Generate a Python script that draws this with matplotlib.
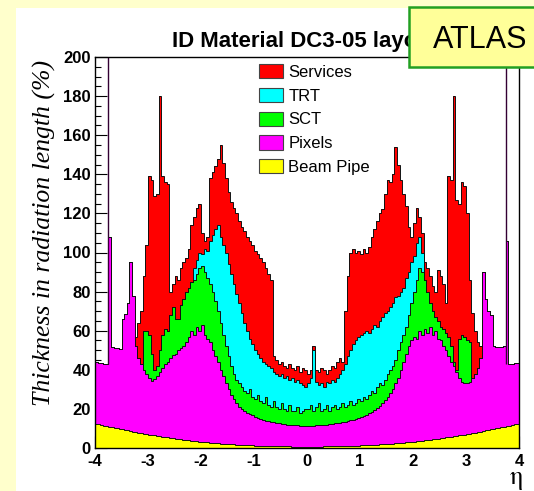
import numpy as np
import matplotlib
matplotlib.use('Agg')
import matplotlib.pyplot as plt
from matplotlib.patches import Patch, Rectangle

plt.rcParams['font.family'] = ['Liberation Sans', 'DejaVu Sans']
plt.rcParams['axes.unicode_minus'] = False
plt.rcParams['mathtext.fontset'] = 'stix'

# eta bins, 0.05 wide
eta_edges = np.linspace(-4, 4, 161)

# upper edge of each stacked layer (% X0)
beam_top = np.array([
    12.4, 12.1, 11.8, 11.5, 11.2, 10.9, 10.6, 10.3, 10.0, 9.8,
    9.5, 9.2, 9.0, 8.7, 8.4, 8.2, 7.9, 7.7, 7.4, 7.2,
    6.9, 6.7, 6.5, 6.2, 6.0, 5.8, 5.6, 5.4, 5.2, 5.0,
    4.8, 4.6, 4.4, 4.2, 4.1, 3.9, 3.7, 3.6, 3.4, 3.3,
    3.1, 3.0, 2.9, 2.7, 2.6, 2.5, 2.4, 2.3, 2.2, 2.1,
    2.0, 1.9, 1.8, 1.7, 1.6, 1.6, 1.5, 1.4, 1.4, 1.3,
    1.2, 1.2, 1.1, 1.1, 1.0, 1.0, 1.0, 0.9, 0.9, 0.9,
    0.8, 0.8, 0.8, 0.8, 0.7, 0.7, 0.7, 0.7, 0.7, 0.7,
    0.7, 0.7, 0.7, 0.7, 0.7, 0.7, 0.8, 0.8, 0.8, 0.8,
    0.9, 0.9, 0.9, 1.0, 1.0, 1.0, 1.1, 1.1, 1.2, 1.2,
    1.3, 1.4, 1.4, 1.5, 1.6, 1.6, 1.7, 1.8, 1.9, 2.0,
    2.1, 2.2, 2.3, 2.4, 2.5, 2.6, 2.7, 2.9, 3.0, 3.1,
    3.3, 3.4, 3.6, 3.7, 3.9, 4.1, 4.2, 4.4, 4.6, 4.8,
    5.0, 5.2, 5.4, 5.6, 5.8, 6.0, 6.2, 6.5, 6.7, 6.9,
    7.2, 7.4, 7.7, 7.9, 8.2, 8.4, 8.7, 9.0, 9.2, 9.5,
    9.8, 10.0, 10.3, 10.6, 10.9, 11.2, 11.5, 11.8, 12.1, 12.4])

pixel_top = np.array([
    43.8, 43.6, 43.4, 43.1, 42.8, 108, 51.5, 51.3, 51.0, 50.8,
    66, 68.5, 74, 95, 78, 52, 46, 43, 40, 38,
    36, 34.5, 35.5, 37, 39, 41, 43, 44, 46, 47.5,
    48, 50, 51, 52, 54, 57, 60, 58, 62, 60,
    63, 58, 56, 54, 50, 47, 44, 40, 37, 33,
    30, 27, 25, 23, 21, 20, 19, 18, 17.5, 17,
    16, 15.5, 15, 14.5, 14, 13.7, 13.4, 13.1, 12.8, 12.6,
    12.4, 12.2, 12.0, 11.9, 11.8, 11.7, 11.6, 11.5, 11.5, 11.4,
    11.4, 11.5, 11.5, 11.6, 11.7, 11.8, 11.9, 12.0, 12.2, 12.4,
    12.6, 12.8, 13.0, 13.2, 13.5, 13.8, 14.1, 14.5, 15.0, 15.5,
    16, 16.5, 17, 17.8, 18.5, 19.5, 20.5, 21.5, 23, 24.5,
    26, 28, 30, 33, 36, 40, 44, 48, 52, 55,
    57, 56, 60, 58, 61, 59, 62, 58, 60, 56,
    55, 52, 50, 47, 44, 42, 39, 36, 34, 33,
    33, 34, 36, 38, 41, 46, 90, 76, 70, 68,
    52, 51.5, 51.5, 51.8, 52, 106, 42.8, 43.1, 43.4, 43.7])

sct_top = np.array([
    43.8, 43.6, 43.4, 43.1, 42.8, 108, 51.5, 51.3, 51.0, 50.8,
    66, 68.5, 74, 95, 78, 52, 46, 43, 60, 60,
    58, 48, 40, 42, 50, 58, 61, 60, 68, 72,
    66, 66, 73, 76, 80, 82, 85, 86, 89, 92,
    93, 90, 87, 84, 80, 75, 70, 64, 58, 52,
    47, 42, 38, 35, 33, 31, 29, 28, 30, 26,
    25, 27, 24, 23, 26, 22, 21, 24, 21, 20,
    23, 20, 19, 22, 19, 19, 21, 18, 19, 20,
    20, 22, 19, 21, 23, 19, 20, 22, 19, 21,
    22, 20, 21, 23, 21, 22, 24, 22, 23, 25,
    24, 26, 25, 27, 29, 28, 31, 33, 32, 35,
    38, 40, 42, 45, 50, 54, 58, 62, 68, 74,
    80, 86, 92, 90, 86, 80, 74, 70, 67, 65,
    62, 61, 59, 57, 52, 44, 40, 56, 58, 57,
    55, 54, 36, 38, 41, 46, 90, 76, 70, 68,
    52, 51.5, 51.5, 51.8, 52, 106, 42.8, 43.1, 43.4, 43.7])

trt_top = np.array([
    43.8, 43.6, 43.4, 43.1, 42.8, 108, 51.5, 51.3, 51.0, 50.8,
    66, 68.5, 74, 95, 78, 52, 46, 43, 60, 60,
    58, 48, 40, 42, 50, 58, 61, 60, 68, 72,
    66, 66, 73, 76, 80, 82, 85, 92, 96, 100,
    99, 102, 101, 106, 109, 112, 114, 108, 104, 100,
    94, 89, 84, 79, 74, 69, 64, 60, 56, 53,
    50, 48, 46, 44, 43, 42, 41, 39, 38, 37,
    38, 36, 37, 35, 36, 34, 35, 33, 32, 31,
    33, 36, 50, 34, 32, 33, 31, 34, 33, 35,
    34, 36, 38, 40, 43, 47, 50, 53, 55, 57,
    58, 59, 60, 59, 61, 63, 62, 65, 67, 69,
    70, 72, 74, 77, 78, 80, 82, 87, 90, 95,
    98, 105, 108, 100, 86, 80, 74, 70, 67, 65,
    62, 61, 59, 57, 52, 44, 40, 56, 58, 57,
    55, 54, 36, 38, 41, 46, 90, 76, 70, 68,
    52, 51.5, 51.5, 51.8, 52, 106, 42.8, 43.1, 43.4, 43.7])

total_top = np.array([
    43.8, 43.6, 43.4, 43.1, 42.8, 108, 51.5, 51.3, 51.0, 50.8,
    66, 68.5, 74, 95, 78, 57, 64, 70, 88, 104,
    139, 137, 129, 130, 180, 139, 136, 135, 80, 84,
    88, 86, 92, 95, 97, 102, 114, 118, 123, 125,
    110, 106, 108, 138, 141, 144, 148, 155, 146, 138,
    131, 126, 123, 120, 116, 113, 111, 108, 106, 104,
    101, 99, 97, 95, 92, 89, 86, 47, 45, 43,
    44, 42, 41, 43, 41, 40, 42, 39, 41, 40,
    38, 40, 52, 40, 39, 41, 40, 38, 40, 42,
    41, 44, 46, 44, 70, 88, 100, 102, 100, 101,
    99, 102, 100, 103, 108, 112, 116, 120, 122, 130,
    137, 136, 140, 154, 145, 137, 130, 124, 113, 108,
    115, 123, 118, 110, 95, 92, 88, 83, 80, 91,
    88, 84, 74, 139, 137, 180, 127, 125, 136, 134,
    120, 86, 69, 60, 54, 52, 90, 76, 70, 68,
    52, 51.5, 51.5, 51.8, 52, 106, 42.8, 43.1, 43.4, 43.7])

# unfilled overflow bins at the ends (outline only)
edge_eta = [-3.75, 3.75]

labels = ['Services', 'TRT', 'SCT', 'Pixels', 'Beam Pipe']
colors = ['#ff0000', '#00ffff', '#00ff00', '#ff00ff', '#ffff00']

fig = plt.figure(figsize=(5.34, 4.91), dpi=100, facecolor='#ffffcc')
fig.add_artist(Rectangle((16/534, 0), 1, 483/491, transform=fig.transFigure,
                         facecolor='white', edgecolor='none', zorder=-1))
ax = fig.add_axes([95/534, 43/491, 424/534, 391/491])

tops = [total_top, trt_top, sct_top, pixel_top, beam_top]
bottoms = [trt_top, sct_top, pixel_top, beam_top, np.zeros_like(beam_top)]
for top, bottom, c in zip(tops, bottoms, colors):
    ax.stairs(top, eta_edges, baseline=bottom, fill=True, color=c, lw=0)
for top in tops:
    ax.stairs(top, eta_edges, baseline=None, color='#111111', lw=0.7)

# outline of the overflow bins
for e in edge_eta:
    i = np.searchsorted(eta_edges, e)
    base = pixel_top[i - 1] if e < 0 else pixel_top[i + 1]
    ax.vlines(e, base, 200, color='#330033', lw=1.0)

ax.set_xlim(-4, 4)
ax.set_ylim(0, 200)
ax.set_axisbelow(True)
ax.set_xticks(range(-4, 5))
ax.set_yticks(range(0, 201, 20))
ax.set_yticks(range(0, 201, 5), minor=True)
ax.tick_params(axis='both', which='major', direction='in', length=8.6, width=0.8,
               labelsize=12)
ax.tick_params(axis='y', which='major', pad=3)
ax.tick_params(axis='x', which='major', pad=4)
ax.tick_params(axis='y', which='minor', direction='in', length=4.3, width=0.8)
for lab in ax.get_xticklabels() + ax.get_yticklabels():
    lab.set_fontweight('bold')
for s in ax.spines.values():
    s.set_linewidth(1.0)

handles = [Patch(facecolor=c, edgecolor='#444444', lw=0.8) for c in colors]
ax.legend(handles, labels, loc='upper left', bbox_to_anchor=(0.387, 0.982),
          frameon=False, prop={'family': 'Liberation Sans', 'size': 12},
          handlelength=1.45, handleheight=0.95, handletextpad=0.3,
          labelspacing=0.47, borderpad=0, borderaxespad=0)

fig.text(172/534, 1 - 47/491, 'ID Material DC3-05 layout', fontsize=16,
         fontweight='bold', va='baseline', ha='left', zorder=1)
fig.add_artist(Rectangle((409/534, 1 - 67/491), 0.3, 60/491, transform=fig.transFigure,
                         facecolor='#ffff99', edgecolor='#22a022', lw=1.8, zorder=5))
fig.text(433/534, 1 - 48/491, 'ATLAS', fontsize=22, va='baseline', ha='left', zorder=6)

fig.text(44/534, 1 - 233/491, 'Thickness in radiation length (%)', rotation=90,
         ha='center', va='center', family='Liberation Serif', style='italic', fontsize=18.5)
fig.text(523/534, 7/491, r'$\mathrm{\eta}$', ha='right', va='baseline', fontsize=19)

fig.savefig('out.png', dpi=100, facecolor=fig.get_facecolor())
